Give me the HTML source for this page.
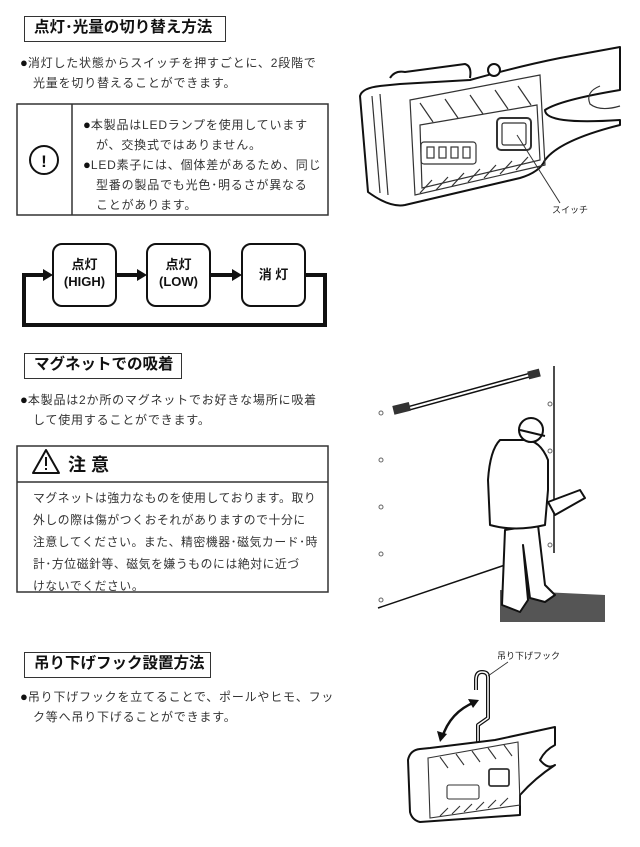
<!DOCTYPE html>
<html><head><meta charset="utf-8"><style>
html,body{margin:0;padding:0;background:#fff;}
body{width:640px;height:847px;position:relative;overflow:hidden;font-family:"Liberation Sans","Noto Sans CJK JP",sans-serif;color:#222;}
.t{position:absolute;white-space:nowrap;}
.title{position:absolute;border:1.5px solid #333;font-weight:bold;font-size:15.5px;line-height:22px;padding-left:9px;box-sizing:border-box;color:#111;white-space:nowrap;overflow:hidden;}
.p{position:absolute;font-size:12px;line-height:20px;white-space:nowrap;color:#333;letter-spacing:0.8px;}
.b{font-size:13px;color:#111;letter-spacing:0;}
</style></head><body>
<svg width="640" height="847" style="position:absolute;left:0;top:0" xmlns="http://www.w3.org/2000/svg">
<g fill="none" stroke="#333">
<rect x="17" y="104" width="311" height="111" stroke-width="1.5"/>
<line x1="72" y1="104" x2="72" y2="215" stroke-width="1.5"/>
<circle cx="44" cy="160" r="14" stroke-width="2" stroke="#111"/>
</g>
<text x="44" y="167" font-size="17" font-weight="bold" text-anchor="middle" font-family="Liberation Sans" fill="#111">!</text>
<g fill="none" stroke="#111" stroke-width="2">
<rect x="53" y="244" width="63" height="62" rx="9"/>
<rect x="147" y="244" width="63" height="62" rx="9"/>
<rect x="242" y="244" width="63" height="62" rx="9"/>
</g>
<g fill="none" stroke="#111" stroke-width="4">
<polyline points="305,275 325,275 325,325 24,325 24,275 44,275"/>
<line x1="116" y1="275" x2="138" y2="275"/>
<line x1="210" y1="275" x2="232" y2="275"/>
</g>
<g fill="#111">
<polygon points="53,275 43,269 43,281"/>
<polygon points="147,275 137,269 137,281"/>
<polygon points="242,275 232,269 232,281"/>
</g>
<g fill="none" stroke="#333" stroke-width="1.5">
<rect x="17" y="446" width="311" height="146"/>
<line x1="17" y1="482" x2="328" y2="482"/>
<polygon points="46,450 33,473 59,473" stroke-width="2" stroke-linejoin="round" stroke="#111"/>
</g>
<rect x="45" y="457" width="2" height="9" fill="#111"/><rect x="45" y="468" width="2" height="2" fill="#111"/>

<g fill="#fff" stroke="#111" stroke-width="2" stroke-linejoin="round">
<path d="M470,80 Q520,66 560,58 L620,47 L620,90 Q560,100 545,110 Q545,125 620,120 L620,125 Q560,140 545,160 Q540,172 520,178 L405,205 Q390,208 368,192 L360,96 Q362,88 380,86 L400,84 Z"/>
<path d="M390,78 Q395,70 405,72 L465,64 Q472,66 470,78" />
<circle cx="494" cy="70" r="6"/>
</g>
<g fill="none" stroke="#333" stroke-width="1.2">
<path d="M410,100 L540,75 L545,165 L415,195 Z"/>
<path d="M420,125 L537,105 L540,160 L422,188 Z"/>
<path d="M372,96 L380,193"/><path d="M380,94 L388,195"/>
<rect x="421" y="142" width="55" height="22" rx="3"/>
<rect x="497" y="118" width="34" height="32" rx="4" stroke-width="2"/>
<rect x="502" y="123" width="24" height="22" rx="2"/>
<path d="M420,103 L433,122 M445,99 L458,118 M470,95 L483,114 M495,90 L508,109 M518,86 L531,105"/>
<path d="M420,193 L432,180 M436,190 L448,177 M452,186 L464,173 M468,182 L480,169 M484,178 L496,165 M500,174 L512,161 M516,170 L528,157"/>
<path d="M600,86 Q585,92 590,104 Q600,112 620,106"/>
<line x1="517" y1="135" x2="560" y2="203" stroke-width="1"/>
</g>
<g fill="none" stroke="#333" stroke-width="1.2"><rect x="427" y="147" width="7" height="11"/><rect x="439" y="147" width="7" height="11"/><rect x="451" y="147" width="7" height="11"/><rect x="463" y="147" width="7" height="11"/></g>

<polygon points="500,590 605,595 605,622 500,622" fill="#555"/>
<g fill="none" stroke="#111">
<line x1="554" y1="366" x2="554" y2="553" stroke-width="1.5"/>
<line x1="378" y1="608" x2="505" y2="565" stroke-width="1.5"/>
<line x1="410" y1="408" x2="530" y2="375" stroke-width="5"/>
<line x1="410" y1="408" x2="530" y2="375" stroke-width="2" stroke="#fff"/>
</g>
<rect x="393" y="404" width="17" height="9" fill="#333" transform="rotate(-14 401 408)"/>
<rect x="528" y="370" width="12" height="8" fill="#333" transform="rotate(-14 534 374)"/>
<g fill="#fff" stroke="#666" stroke-width="1"><circle cx="381" cy="413" r="2"/><circle cx="381" cy="460" r="2"/><circle cx="381" cy="507" r="2"/><circle cx="381" cy="554" r="2"/><circle cx="381" cy="600" r="2"/><circle cx="550" cy="404" r="2"/><circle cx="550" cy="451" r="2"/><circle cx="550" cy="545" r="2"/></g>
<g fill="#fff" stroke="#111" stroke-width="2" stroke-linejoin="round">
<path d="M505,530 L502,605 L520,612 L528,600 L523,545 L530,598 L545,602 L555,595 L545,585 L538,525 Z"/>
<path d="M500,440 Q490,450 488,480 L490,525 Q515,532 545,525 L548,490 L548,460 Q540,440 525,440 Z"/>
<circle cx="531" cy="430" r="12"/>
<path d="M520,430 L545,436"/>
<path d="M548,502 L580,490 L585,498 L555,515 Z"/>
</g>
<g fill="#fff" stroke="#111" stroke-width="2" stroke-linejoin="round">
<path d="M478,745 L478,725 L488,718 L488,677 Q488,672 482,672 Q476,672 476,680 L476,690" fill="none" stroke-width="4"/>
<path d="M478,745 L478,725 L488,718 L488,677 Q488,672 482,672 Q476,672 476,680 L476,690" fill="none" stroke="#fff" stroke-width="1.5"/>
<path d="M430,748 L495,740 L555,727 L555,745 Q545,750 540,760 Q548,770 555,765 Q535,778 520,795 L520,815 L420,822 Q412,820 410,812 L408,760 Q410,750 420,749 Z"/>
</g>
<g fill="none" stroke="#333" stroke-width="1.1">
<path d="M428,758 L518,742 L520,805 L430,818 Z"/>
<rect x="447" y="785" width="32" height="14" rx="2"/>
<rect x="489" y="769" width="20" height="17" rx="2" stroke-width="1.8"/>
<path d="M440,757 L448,768 M456,754 L464,765 M472,751 L480,762 M488,748 L496,759 M504,745 L512,756"/>
<path d="M440,816 L448,808 M452,814 L460,806 M464,812 L472,804 M476,810 L484,802 M488,808 L496,800 M500,806 L508,798"/>
<line x1="488" y1="676" x2="508" y2="662" stroke-width="0.8"/>
</g>
<path d="M442,738 Q450,712 475,702" fill="none" stroke="#111" stroke-width="2.5"/>
<polygon points="479,700 468,699 473,708" fill="#111"/>
<polygon points="440,742 437,731 447,734" fill="#111"/>
</svg>

<div class="title" style="left:24px;top:16px;width:202px;height:26px;">点灯･光量の切り替え方法</div>
<div class="p" style="left:20px;top:53px;"><span class="b">●</span>消灯した状態からスイッチを押すごとに、2段階で</div>
<div class="p" style="left:33px;top:73px;">光量を切り替えることができます。</div>
<div class="p" style="left:83px;top:115px;"><span class="b">●</span>本製品はLEDランプを使用しています</div>
<div class="p" style="left:96px;top:135px;">が、交換式ではありません。</div>
<div class="p" style="left:83px;top:155px;"><span class="b">●</span>LED素子には、個体差があるため、同じ</div>
<div class="p" style="left:96px;top:175px;">型番の製品でも光色･明るさが異なる</div>
<div class="p" style="left:96px;top:195px;">ことがあります。</div>
<div class="t" style="left:53px;top:256px;width:63px;text-align:center;font-weight:bold;font-size:13px;line-height:17px;color:#111;">点灯<br>(HIGH)</div>
<div class="t" style="left:147px;top:256px;width:63px;text-align:center;font-weight:bold;font-size:13px;line-height:17px;color:#111;">点灯<br>(LOW)</div>
<div class="t" style="left:242px;top:266px;width:63px;text-align:center;font-weight:bold;font-size:13px;line-height:17px;color:#111;">消 灯</div>

<div class="title" style="left:24px;top:353px;width:158px;height:26px;">マグネットでの吸着</div>
<div class="p" style="left:20px;top:390px;"><span class="b">●</span>本製品は2か所のマグネットでお好きな場所に吸着</div>
<div class="p" style="left:33px;top:410px;">して使用することができます。</div>
<div class="t" style="left:68px;top:452px;font-size:18px;font-weight:bold;color:#111;line-height:26px;">注 意</div>
<div class="p" style="left:33px;top:487px;line-height:22px;font-size:11.8px;letter-spacing:0.6px;">マグネットは強力なものを使用しております。取り<br>外しの際は傷がつくおそれがありますので十分に<br>注意してください。また、精密機器･磁気カード･時<br>計･方位磁針等、磁気を嫌うものには絶対に近づ<br>けないでください。</div>

<div class="title" style="left:24px;top:652px;width:187px;height:26px;">吊り下げフック設置方法</div>
<div class="p" style="left:20px;top:687px;"><span class="b">●</span>吊り下げフックを立てることで、ポールやヒモ、フッ</div>
<div class="p" style="left:33px;top:707px;">ク等へ吊り下げることができます。</div>

<div class="t" style="left:552px;top:203px;font-size:9px;color:#222;">スイッチ</div>
<div class="t" style="left:497px;top:649px;font-size:9px;color:#222;">吊り下げフック</div>
</body></html>
